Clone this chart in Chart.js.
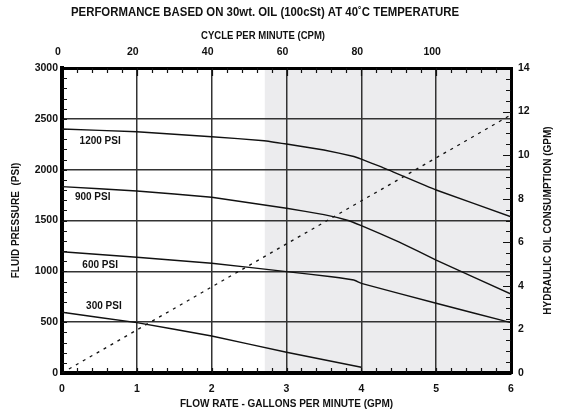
<!DOCTYPE html>
<html><head><meta charset="utf-8">
<script src="https://cdn.jsdelivr.net/npm/chart.js@4.4.1/dist/chart.umd.min.js"></script>
<style>html,body{margin:0;padding:0;background:#fff}#wrap{width:565px;height:416px;position:relative}</style>
</head><body><div id="wrap"><canvas id="c" width="565" height="416"></canvas></div>
<script>
const chartTitle = 'PERFORMANCE BASED ON 30wt. OIL (100cSt) AT 40˚C TEMPERATURE';
const bottomAxisTitle = 'FLOW RATE - GALLONS PER MINUTE (GPM)';
const topAxisTitle = 'CYCLE PER MINUTE (CPM)';
const leftAxisTitle = 'FLUID PRESSURE  (PSI)';
const rightAxisTitle = 'HYDRAULIC OIL CONSUMPTION (GPM)';

const seriesNames = ['1200 PSI', '900 PSI', '600 PSI', '300 PSI'];
const flow1200 = [0, 1, 2, 2.7, 3, 3.5, 3.9, 4, 4.25, 5, 6];
const pressure1200 = [2400, 2373, 2324, 2285, 2252, 2193, 2130, 2103, 2032, 1800, 1537];
const flow900 = [0, 1, 2, 3, 3.5, 3.8, 4, 4.5, 5, 6];
const pressure900 = [1833, 1790, 1728, 1620, 1558, 1505, 1449, 1290, 1111, 777];
const flow600 = [0, 1, 2, 3, 3.6, 3.9, 4, 5, 6];
const pressure600 = [1193, 1138, 1080, 997, 947, 915, 882, 686, 495];
const flow300 = [0, 1, 2, 3, 4];
const pressure300 = [597, 495, 364, 204, 56];
const consumptionFlow = [0, 6];
const consumptionGpm = [0, 11.85];

const shadedFromGpm = 2.71;
const shadedToGpm = 6;
const labelFlow = [0.51, 0.41, 0.51, 0.56];
const labelPressure = [2275, 1731, 1062, 659];

const bottomTicks = [0, 1, 2, 3, 4, 5, 6];
const topTicks = [0, 20, 40, 60, 80, 100];
const leftTicks = [0, 500, 1000, 1500, 2000, 2500, 3000];
const rightTicks = [0, 2, 4, 6, 8, 10, 12, 14];

const FONT = "'Liberation Sans', Arial, sans-serif";
const pts = (xs, ys) => xs.map((x, i) => ({x: x, y: ys[i]}));

const curve = (label, xs, ys) => ({
  label: label, data: pts(xs, ys), xAxisID: 'x', yAxisID: 'y',
  borderColor: '#111', borderWidth: 1.4, pointRadius: 0, tension: 0.1, fill: false
});

const decor = {
  id: 'decor',
  beforeDraw(chart) {
    const {ctx, chartArea: a, scales: {x}} = chart;
    ctx.save();
    ctx.fillStyle = '#ececee';
    const x0 = x.getPixelForValue(shadedFromGpm), x1 = x.getPixelForValue(shadedToGpm);
    ctx.fillRect(x0, a.top, x1 - x0, a.bottom - a.top);
    ctx.restore();
  },
  afterDraw(chart) {
    const {ctx, chartArea: a, scales: {x, xTop, y, y2}} = chart;
    ctx.save();
    ctx.strokeStyle = '#111';
    ctx.lineWidth = 1.2;
    ctx.beginPath();
    for (let v = 0.2; v < 6; v += 0.2) {
      const px = Math.round(x.getPixelForValue(v)) + 0.5;
      ctx.moveTo(px, a.bottom); ctx.lineTo(px, a.bottom - 5);
    }
    for (let c = 4; c < 120; c += 4) {
      const px = Math.round(xTop.getPixelForValue(c)) + 0.5;
      const len = (c % 20 === 0) ? 8 : 5;
      ctx.moveTo(px, a.top); ctx.lineTo(px, a.top + len);
    }
    for (let p = 100; p < 3000; p += 100) {
      const py = Math.round(y.getPixelForValue(p)) + 0.5;
      ctx.moveTo(a.left, py); ctx.lineTo(a.left + 5, py);
    }
    for (let g = 0.5; g < 14; g += 0.5) {
      const py = Math.round(y2.getPixelForValue(g)) + 0.5;
      const len = (g % 2 === 0) ? 8 : 5;
      ctx.moveTo(a.right, py); ctx.lineTo(a.right - len, py);
    }
    ctx.stroke();

    ctx.fillStyle = '#111';
    ctx.textAlign = 'center';
    ctx.textBaseline = 'middle';
    ctx.font = 'bold 10px ' + FONT;
    seriesNames.forEach((n, i) => {
      ctx.fillText(n, x.getPixelForValue(labelFlow[i]), y.getPixelForValue(labelPressure[i]));
    });
    ctx.font = 'bold 12px ' + FONT;
    ctx.fillText(chartTitle, 265, 12.5, 388);
    ctx.font = 'bold 10px ' + FONT;
    ctx.fillText(topAxisTitle, 263, 36, 124);
    ctx.save();
    ctx.translate(548, (a.top + a.bottom) / 2);
    ctx.rotate(-Math.PI / 2);
    ctx.fillText(rightAxisTitle, 0, 0);
    ctx.restore();
    ctx.restore();
  }
};

const tickFont = {family: FONT, size: 10.5, weight: 'bold'};
const titleFont = {family: FONT, size: 10, weight: 'bold'};
const plain = v => String(v);
const hideEdges = (lo, hi) => (c) => (c.tick && (c.tick.value === lo || c.tick.value === hi)) ? 'rgba(0,0,0,0)' : '#333';

new Chart(document.getElementById('c'), {
  type: 'line',
  data: {
    datasets: [
      curve(seriesNames[0], flow1200, pressure1200),
      curve(seriesNames[1], flow900, pressure900),
      curve(seriesNames[2], flow600, pressure600),
      curve(seriesNames[3], flow300, pressure300),
      {
        label: 'Hydraulic oil consumption', data: pts(consumptionFlow, consumptionGpm),
        xAxisID: 'x', yAxisID: 'y2', borderColor: '#111', borderWidth: 1.3,
        borderDash: [3, 5], pointRadius: 0, fill: false
      }
    ]
  },
  options: {
    responsive: false, animation: false,
    layout: {padding: 0},
    plugins: {legend: {display: false}, tooltip: {enabled: false}, title: {display: false}},
    scales: {
      x: {
        type: 'linear', position: 'bottom', min: 0, max: 6,
        afterBuildTicks: s => { s.ticks = bottomTicks.map(v => ({value: v})); },
        afterFit: s => { s.height = 43; },
        ticks: {font: tickFont, color: '#111', padding: 10, maxRotation: 0, callback: plain},
        grid: {drawTicks: false, color: hideEdges(0, 6), lineWidth: 1.5},
        border: {display: true, color: '#000', width: 4},
        title: {display: true, text: bottomAxisTitle, font: titleFont, color: '#111', padding: {top: 0, bottom: 6}}
      },
      xTop: {
        type: 'linear', position: 'top', min: 0, max: 120,
        afterBuildTicks: s => { s.ticks = topTicks.map(v => ({value: v})); },
        afterFit: s => { s.height = 68; },
        ticks: {font: tickFont, color: '#111', padding: 10, maxRotation: 0, labelOffset: -4, callback: plain},
        grid: {display: false, drawTicks: false},
        border: {display: true, color: '#000', width: 3}
      },
      y: {
        type: 'linear', position: 'left', min: 0, max: 3000,
        afterBuildTicks: s => { s.ticks = leftTicks.map(v => ({value: v})); },
        afterFit: s => { s.width = 62; },
        ticks: {font: tickFont, color: '#111', padding: 4, callback: plain},
        grid: {drawTicks: false, color: hideEdges(0, 3000), lineWidth: 1.5},
        border: {display: true, color: '#000', width: 4},
        title: {display: true, text: leftAxisTitle, font: titleFont, color: '#111', padding: {top: 10.5, bottom: 0}}
      },
      y2: {
        type: 'linear', position: 'right', min: 0, max: 14,
        afterBuildTicks: s => { s.ticks = rightTicks.map(v => ({value: v})); },
        afterFit: s => { s.width = 54; },
        ticks: {font: tickFont, color: '#111', padding: 7, callback: plain},
        grid: {display: false, drawTicks: false},
        border: {display: true, color: '#000', width: 3},
        title: {display: false}
      }
    }
  },
  plugins: [decor]
});
</script>
</body></html>
